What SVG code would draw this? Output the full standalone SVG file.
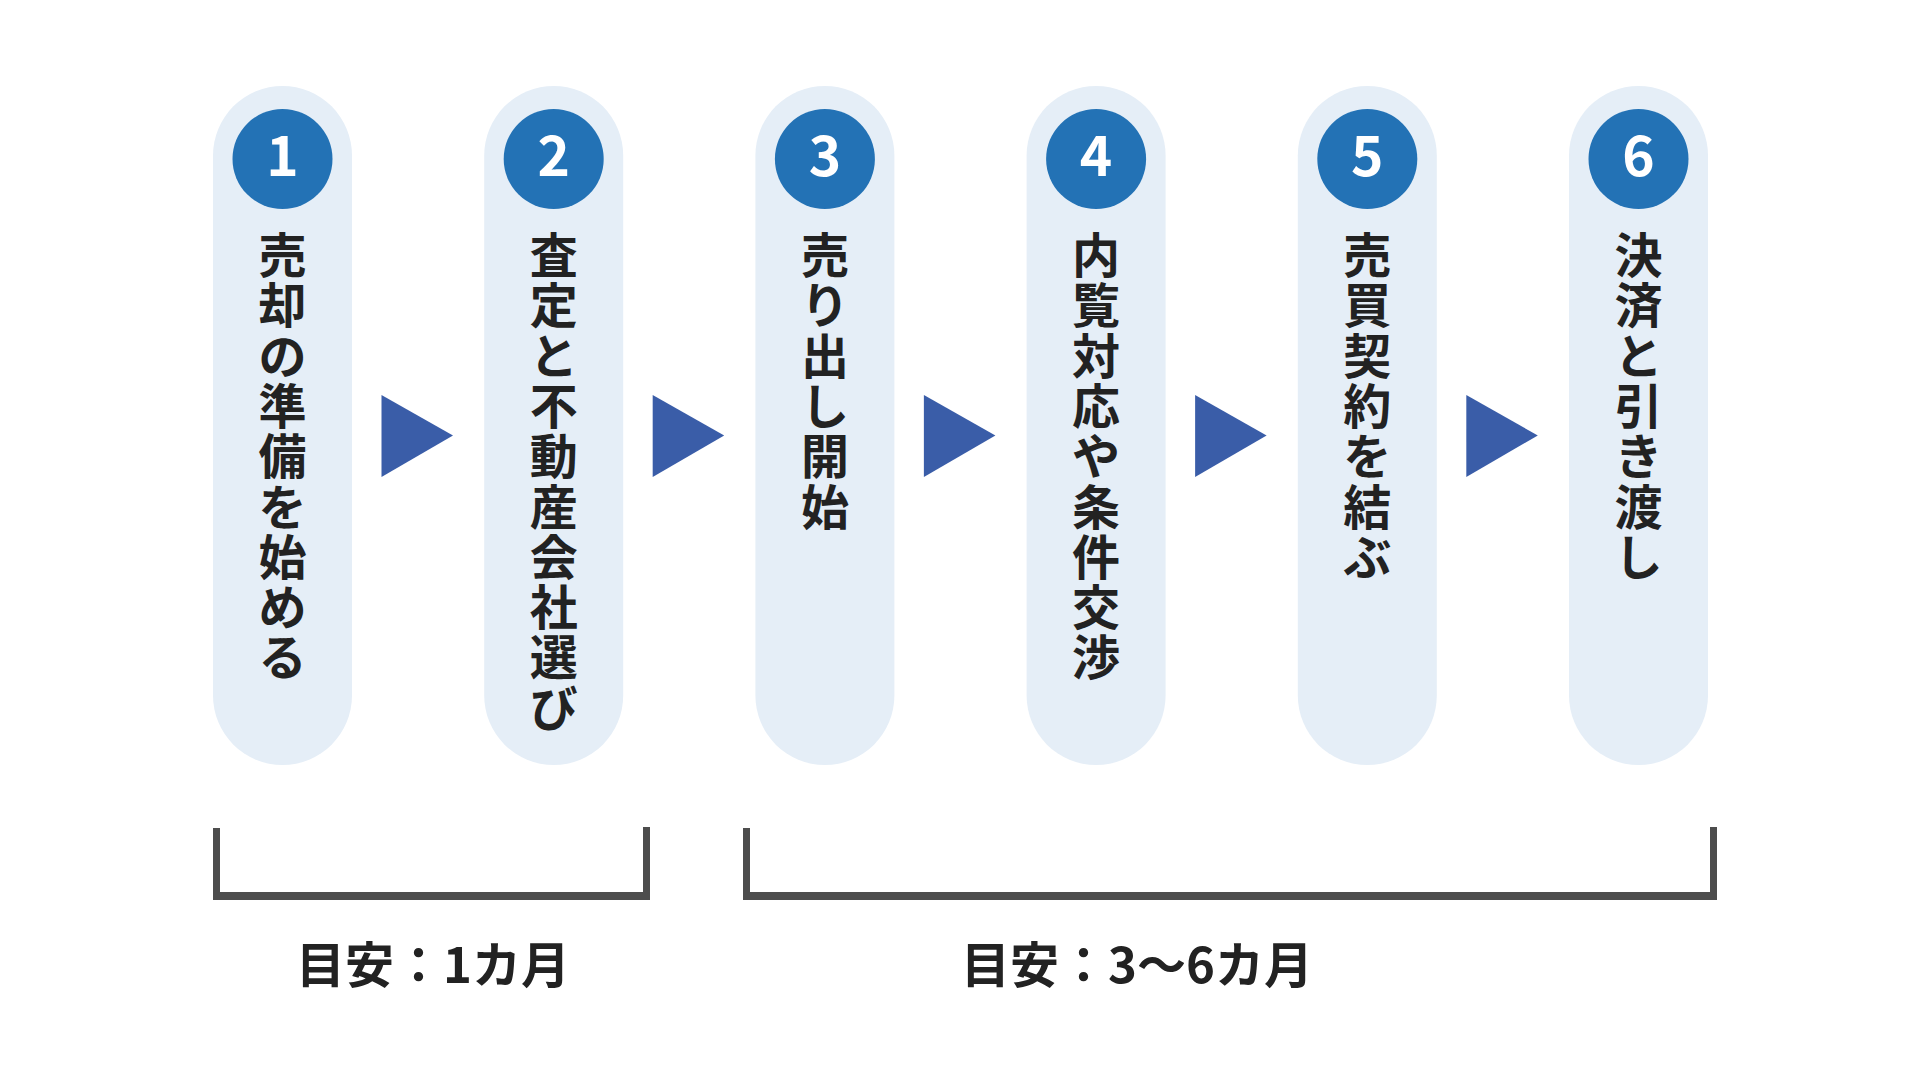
<svg xmlns="http://www.w3.org/2000/svg" width="1920" height="1080" viewBox="0 0 1920 1080">
<defs>
<style>
.pill{fill:#E5EEF7}
.badge{fill:#2372B5}
.num{font-family:"Noto Sans CJK JP","Noto Sans",sans-serif;font-weight:700;font-size:55px;fill:#FFFFFF;text-anchor:middle}
.step{font-family:"Noto Sans CJK JP",sans-serif;font-weight:700;font-size:48px;fill:#222222;text-anchor:middle}
.arrow{fill:#3A5DA8}
.bracket{fill:#4D4D4D}
.label{font-family:"Noto Sans CJK JP",sans-serif;font-weight:700;font-size:49px;fill:#222222;text-anchor:middle}
</style>
</defs>
<rect width="1920" height="1080" fill="#FFFFFF"/>

<g id="step1">
<rect class="pill" x="213" y="86" width="139" height="679" rx="69.5"/>
<circle class="badge" cx="282.5" cy="159" r="50"/>
<text class="num" x="282.5" y="176">1</text>
<text class="step" x="282.5 282.5 282.5 282.5 282.5 282.5 282.5 282.5 282.5" y="273 323.3 373.6 423.9 474.2 524.5 574.8 625.1 675.4">売却の準備を始める</text>
</g>

<g id="step2">
<rect class="pill" x="484.2" y="86" width="139" height="679" rx="69.5"/>
<circle class="badge" cx="553.7" cy="159" r="50"/>
<text class="num" x="553.7" y="176">2</text>
<text class="step" x="553.7 553.7 553.7 553.7 553.7 553.7 553.7 553.7 553.7 553.7" y="273 323.3 373.6 423.9 474.2 524.5 574.8 625.1 675.4 725.7">査定と不動産会社選び</text>
</g>

<g id="step3">
<rect class="pill" x="755.4" y="86" width="139" height="679" rx="69.5"/>
<circle class="badge" cx="824.9" cy="159" r="50"/>
<text class="num" x="824.9" y="176">3</text>
<text class="step" x="824.9 824.9 824.9 824.9 824.9 824.9" y="273 323.3 373.6 423.9 474.2 524.5">売り出し開始</text>
</g>

<g id="step4">
<rect class="pill" x="1026.6" y="86" width="139" height="679" rx="69.5"/>
<circle class="badge" cx="1096.1" cy="159" r="50"/>
<text class="num" x="1096.1" y="176">4</text>
<text class="step" x="1096.1 1096.1 1096.1 1096.1 1096.1 1096.1 1096.1 1096.1 1096.1" y="273 323.3 373.6 423.9 474.2 524.5 574.8 625.1 675.4">内覧対応や条件交渉</text>
</g>

<g id="step5">
<rect class="pill" x="1297.8" y="86" width="139" height="679" rx="69.5"/>
<circle class="badge" cx="1367.3" cy="159" r="50"/>
<text class="num" x="1367.3" y="176">5</text>
<text class="step" x="1367.3 1367.3 1367.3 1367.3 1367.3 1367.3 1367.3" y="273 323.3 373.6 423.9 474.2 524.5 574.8">売買契約を結ぶ</text>
</g>

<g id="step6">
<rect class="pill" x="1569" y="86" width="139" height="679" rx="69.5"/>
<circle class="badge" cx="1638.5" cy="159" r="50"/>
<text class="num" x="1638.5" y="176">6</text>
<text class="step" x="1638.5 1638.5 1638.5 1638.5 1638.5 1638.5 1638.5" y="273 323.3 373.6 423.9 474.2 524.5 574.8">決済と引き渡し</text>
</g>

<g id="connectors">
<polygon class="arrow" points="381.5,395 453,435.5 381.5,477"/>
<polygon class="arrow" points="652.7,395 724.2,435.5 652.7,477"/>
<polygon class="arrow" points="923.9,395 995.4,435.5 923.9,477"/>
<polygon class="arrow" points="1195.1,395 1266.6,435.5 1195.1,477"/>
<polygon class="arrow" points="1466.3,395 1537.8,435.5 1466.3,477"/>
</g>

<g id="period1">
<path class="bracket" d="M213,828 V900 H650 V827 H643 V892 H220 V828 Z"/>
<text class="label" x="433" y="983">目安：1カ月</text>
</g>

<g id="period2">
<path class="bracket" d="M743,828 V900 H1717 V827 H1710 V892 H750 V828 Z"/>
<text class="label" x="1137" y="983">目安：3〜6カ月</text>
</g>
</svg>
